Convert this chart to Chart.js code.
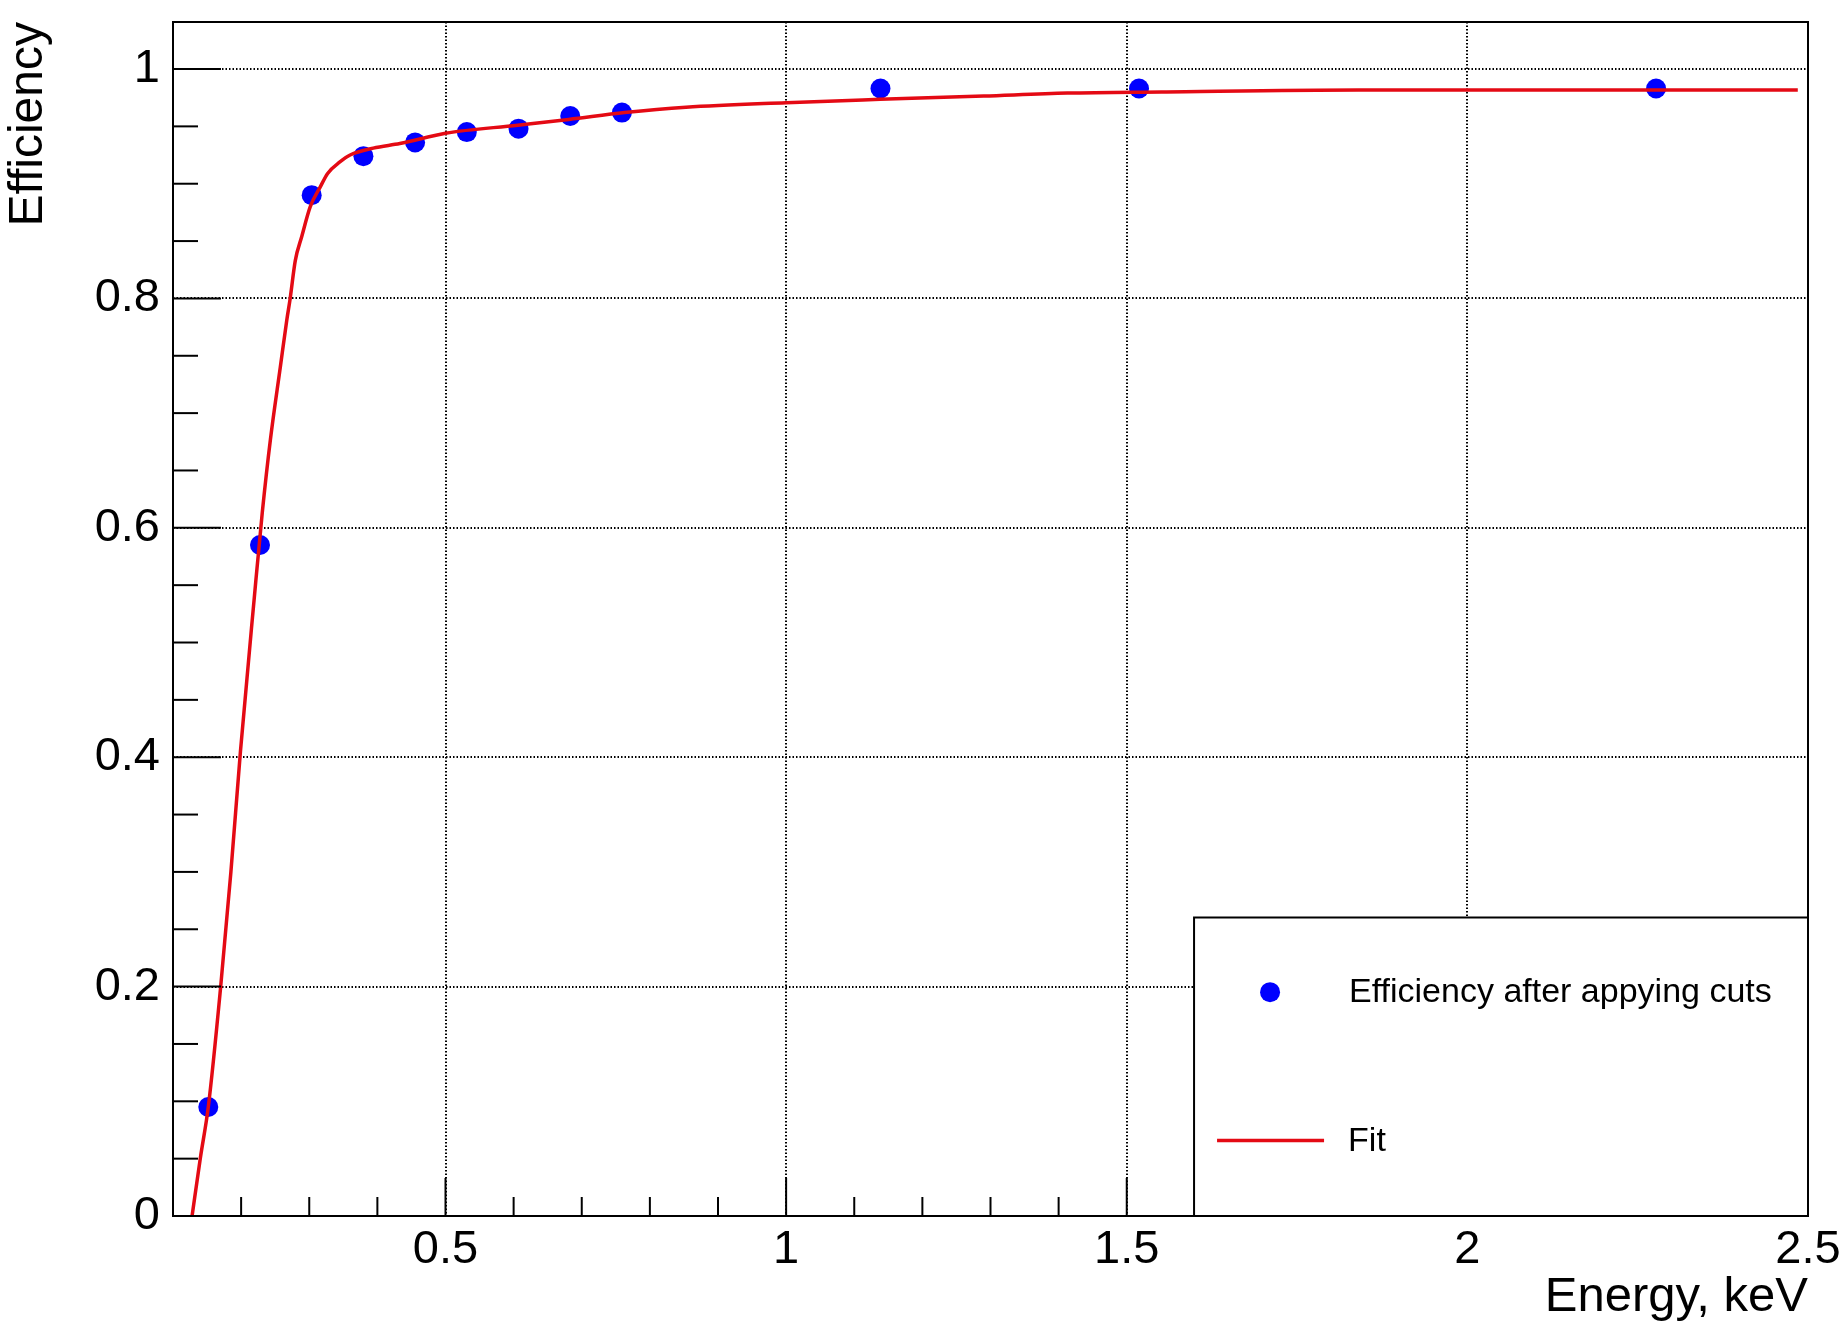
<!DOCTYPE html>
<html>
<head>
<meta charset="utf-8">
<script src="https://cdn.jsdelivr.net/npm/chart.js@4/dist/chart.umd.min.js"></script>
<style>
  body { margin: 0; background: #fff; }
  #wrap { width: 1848px; height: 1331px; position: relative; }
</style>
</head>
<body>
<div id="wrap"><canvas id="myChart"></canvas></div>
<script>
// measured points
var effX = [0.1518, 0.2277, 0.3036, 0.3795, 0.4554, 0.5313, 0.6072, 0.6831, 0.759, 1.1385, 1.518, 2.277];
var effY = [0.095, 0.585, 0.890, 0.924, 0.936, 0.945, 0.948, 0.959, 0.962, 0.983, 0.983, 0.983];

// fit curve
var fitX = [0.128, 0.14, 0.152, 0.17, 0.185, 0.199, 0.219, 0.231, 0.243, 0.2575, 0.267, 0.272, 0.2795, 0.289, 0.3015,
            0.316, 0.327, 0.345, 0.36, 0.394, 0.433, 0.5, 0.606, 0.681, 0.763, 0.853, 1.0, 1.138, 1.29, 1.413, 1.551, 1.84, 2.485];
var fitY = [0, 0.05, 0.096, 0.2, 0.30, 0.405, 0.537, 0.613, 0.677, 0.740, 0.781, 0.80, 0.833, 0.854, 0.880,
            0.897, 0.909, 0.919, 0.925, 0.931, 0.935, 0.944, 0.951, 0.956, 0.962, 0.9667, 0.9707, 0.9736, 0.9765, 0.979, 0.980, 0.9817, 0.9817];

var xTicks = [0.5, 1, 1.5, 2, 2.5];
var xTickLabels = ['0.5', '1', '1.5', '2', '2.5'];
var xMinorStep = 0.1;
var yTicks = [0, 0.2, 0.4, 0.6, 0.8, 1];
var yTickLabels = ['0', '0.2', '0.4', '0.6', '0.8', '1'];
var yMinorStep = 0.05;

var legendLabels = ['Efficiency after appying cuts', 'Fit'];

var FONT = '"Liberation Sans", Arial, Helvetica, sans-serif';
var RED = 'rgb(228,10,20)';
var BLUE = '#0000ff';

function toXY(xs, ys) {
    var out = [];
    for (var i = 0; i < xs.length; i++) out.push({x: xs[i], y: ys[i]});
    return out;
}

// frame, ROOT style inner ticks, dotted grid and legend box
var rootFrame = {
    id: 'rootFrame',
    beforeDatasetsDraw: function(chart) {
        var ctx = chart.ctx, a = chart.chartArea;
        var sx = chart.scales.x, sy = chart.scales.y;
        ctx.save();
        ctx.strokeStyle = '#000';
        ctx.lineWidth = 2;
        ctx.setLineDash([1.5, 2]);
        xTicks.forEach(function(v) {
            var px = Math.round(sx.getPixelForValue(v));
            if (px >= a.right - 1) return;
            ctx.beginPath(); ctx.moveTo(px, a.top); ctx.lineTo(px, a.bottom); ctx.stroke();
        });
        yTicks.forEach(function(v) {
            var py = Math.round(sy.getPixelForValue(v));
            if (py >= a.bottom - 1) return;
            ctx.beginPath(); ctx.moveTo(a.left, py); ctx.lineTo(a.right, py); ctx.stroke();
        });
        ctx.restore();
    },
    afterDatasetsDraw: function(chart) {
        var ctx = chart.ctx, a = chart.chartArea;
        var sx = chart.scales.x, sy = chart.scales.y;
        ctx.save();
        ctx.strokeStyle = '#000';
        ctx.lineWidth = 2;
        ctx.setLineDash([]);
        ctx.strokeRect(a.left, a.top, a.right - a.left, a.bottom - a.top);

        // x ticks
        var i, v, px, py, major;
        for (i = 1; ; i++) {
            v = Math.round((sx.min + i * xMinorStep) * 1000) / 1000;
            if (v >= sx.max) break;
            major = xTicks.indexOf(v) >= 0;
            px = sx.getPixelForValue(v);
            ctx.beginPath(); ctx.moveTo(px, a.bottom); ctx.lineTo(px, a.bottom - (major ? 38 : 19)); ctx.stroke();
        }
        // y ticks
        for (i = 1; ; i++) {
            v = Math.round((sy.min + i * yMinorStep) * 1000) / 1000;
            if (v >= sy.max) break;
            major = yTicks.indexOf(v) >= 0;
            py = sy.getPixelForValue(v);
            ctx.beginPath(); ctx.moveTo(a.left, py); ctx.lineTo(a.left + (major ? 48 : 25), py); ctx.stroke();
        }
        ctx.restore();
    },
    afterDraw: function(chart) {
        var ctx = chart.ctx, a = chart.chartArea;
        var w = a.right - a.left, h = a.bottom - a.top;
        var bx = a.left + 0.6245 * w, by = a.top + 0.75 * h;
        var bw = a.right - bx, bh = a.bottom - by;
        ctx.save();
        ctx.fillStyle = '#fff';
        ctx.fillRect(bx, by, bw, bh);
        ctx.strokeStyle = '#000';
        ctx.lineWidth = 2;
        ctx.strokeRect(bx, by, bw, bh);

        var row1 = by + bh * 0.25, row2 = by + bh * 0.75;
        ctx.fillStyle = BLUE;
        ctx.beginPath(); ctx.arc(bx + 76, row1, 10, 0, Math.PI * 2); ctx.fill();
        ctx.strokeStyle = RED;
        ctx.lineWidth = 3.5;
        ctx.beginPath(); ctx.moveTo(bx + 23, row2 - 1); ctx.lineTo(bx + 130, row2 - 1); ctx.stroke();

        ctx.fillStyle = '#000';
        ctx.font = '34px ' + FONT;
        ctx.textAlign = 'left';
        ctx.textBaseline = 'middle';
        ctx.fillText(legendLabels[0], bx + 155, row1);
        ctx.fillText(legendLabels[1], bx + 154, row2);
        ctx.restore();
    }
};

var ctx = document.getElementById('myChart').getContext('2d');
var myChart = new Chart(ctx, {
    type: 'scatter',
    data: {
        datasets: [{
            type: 'line',
            label: legendLabels[1],
            data: toXY(fitX, fitY),
            borderColor: RED,
            borderWidth: 3.5,
            pointRadius: 0,
            fill: false,
            cubicInterpolationMode: 'monotone',
            order: 0
        }, {
            label: legendLabels[0],
            data: toXY(effX, effY),
            backgroundColor: BLUE,
            borderWidth: 0,
            pointRadius: 10,
            order: 1
        }]
    },
    options: {
        responsive: true,
        maintainAspectRatio: false,
        animation: false,
        layout: { padding: { left: 0, right: 40, top: 22, bottom: 0 } },
        plugins: { legend: { display: false }, tooltip: { enabled: false } },
        scales: {
            x: {
                type: 'linear',
                min: 0.1,
                max: 2.5,
                grid: { display: false, drawTicks: false },
                border: { display: false },
                afterBuildTicks: function(scale) {
                    scale.ticks = xTicks.map(function(v) { return {value: v}; });
                },
                afterFit: function(scale) {
                    scale.height = 115;
                    scale.paddingLeft = 0;
                    scale.paddingRight = 0;
                },
                ticks: {
                    autoSkip: false,
                    maxRotation: 0,
                    padding: 6,
                    color: '#000',
                    font: { family: FONT, size: 47 },
                    callback: function(value) {
                        var k = xTicks.indexOf(value);
                        return k >= 0 ? xTickLabels[k] : '';
                    }
                },
                title: {
                    display: true,
                    text: 'Energy, keV',
                    align: 'end',
                    color: '#000',
                    font: { family: FONT, size: 49, lineHeight: 1.2 },
                    padding: { top: 0, bottom: 4 }
                }
            },
            y: {
                type: 'linear',
                min: 0,
                max: 1.041,
                grid: { display: false, drawTicks: false },
                border: { display: false },
                afterBuildTicks: function(scale) {
                    scale.ticks = yTicks.map(function(v) { return {value: v}; });
                },
                afterFit: function(scale) {
                    scale.width = 173;
                    scale.paddingTop = 0;
                    scale.paddingBottom = 0;
                },
                ticks: {
                    autoSkip: false,
                    padding: 13,
                    color: '#000',
                    font: { family: FONT, size: 47 },
                    callback: function(value) {
                        var k = yTicks.indexOf(value);
                        return k >= 0 ? yTickLabels[k] : '';
                    }
                },
                title: {
                    display: true,
                    text: 'Efficiency',
                    align: 'end',
                    color: '#000',
                    font: { family: FONT, size: 48, lineHeight: 1.2 },
                    padding: { top: 0, bottom: 0 }
                }
            }
        }
    },
    plugins: [rootFrame]
});
</script>
</body>
</html>
